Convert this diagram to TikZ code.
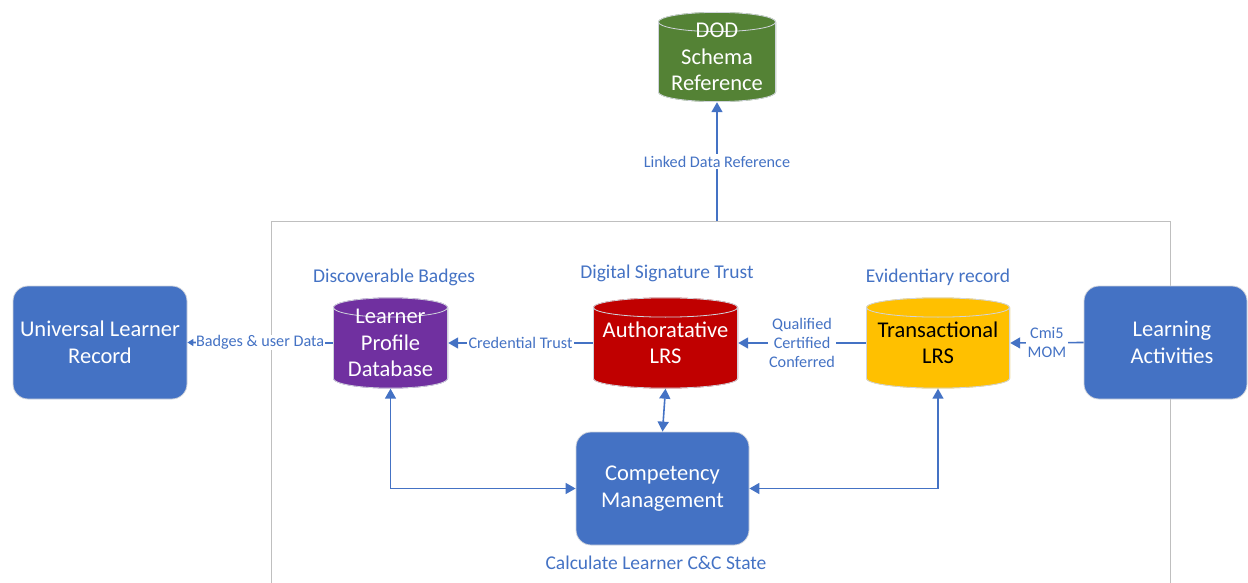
\documentclass[tikz,border=0pt]{standalone}
\usepackage{fontspec}
\setmainfont{Carlito}
\usetikzlibrary{arrows.meta,calc}
\definecolor{cblue}{HTML}{4472C4}
\definecolor{cgreen}{HTML}{548235}
\definecolor{cpurple}{HTML}{7030A0}
\definecolor{cred}{HTML}{C00000}
\definecolor{cyellow}{HTML}{FFC000}
\definecolor{framegray}{HTML}{BFBFBF}
\definecolor{edgegray}{HTML}{D0D4DC}
\tikzset{
  bigtext/.style={font=\fontsize{22.5}{26.5}\selectfont},
  box/.style={shape=rectangle, rounded corners=15pt, fill=cblue, draw=edgegray, line width=0.8pt,
    text=white, align=center, inner sep=0pt, minimum height=113pt, bigtext},
  cyl/.style={shape=rectangle, inner sep=0pt, align=center, text=white, bigtext,
    path picture={
      \fill[#1] let \p1=(path picture bounding box.south west), \p2=(path picture bounding box.north east), \n1={(\x2-\x1)/2} in
        (\x1,\y2-10pt) -- (\x1,\y1+10pt) arc[start angle=180,end angle=360,x radius=\n1,y radius=10pt]
        -- (\x2,\y2-10pt) arc[start angle=0,end angle=180,x radius=\n1,y radius=10pt] -- cycle;
      \draw[edgegray, line width=0.8pt] let \p1=(path picture bounding box.south west), \p2=(path picture bounding box.north east), \n1={(\x2-\x1)/2-0.4pt} in
        (\x1+0.4pt,\y2-10pt) -- (\x1+0.4pt,\y1+10pt) arc[start angle=180,end angle=360,x radius=\n1,y radius=9.6pt]
        -- (\x2-0.4pt,\y2-10pt)
        (\x1+0.4pt+\n1,\y2-10pt) ellipse[x radius=\n1,y radius=9.6pt];
    }},
  title/.style={text=cblue, font=\fontsize{19.5}{23}\selectfont},
  elabel/.style={text=cblue, fill=white, inner sep=1.5pt, align=center, font=\fontsize{16.2}{19}\selectfont},
  conn/.style={cblue, line width=1.6pt, -{Triangle[length=10pt,width=11pt]}},
  dconn/.style={cblue, line width=1.6pt, {Triangle[length=10pt,width=11pt]}-{Triangle[length=10pt,width=11pt]}},
  frameline/.style={framegray, line width=0.8pt}
}
\begin{document}
\begin{tikzpicture}[x=1pt,y=1pt]
\useasboundingbox (0,0) rectangle (1248,-583);
% container frame
\draw[frameline] (271,-583) -- (271,-221) -- (1170,-221) -- (1170,-583);
\coordinate (ftop) at (717,-221);

% nodes
\node[cyl=cgreen, minimum width=118pt, minimum height=90pt] (dod) at (717,-57) {DOD\\Schema\\Reference};
\node[box, minimum width=174pt] (ulr) at (100,-342.5) {Universal Learner\\Record};
\node[box, minimum width=163pt] (la) at (1165.5,-342.5) {\kern13pt Learning\\\kern13pt Activities};
\node[cyl=cpurple, minimum width=115pt, minimum height=91pt] (lpd) at (390.5,-343) {Learner\\Profile\\Database};
\node[cyl=cred, minimum width=145pt, minimum height=91pt] (alrs) at (665.5,-343) {Authoratative\\LRS};
\node[cyl=cyellow, minimum width=144pt, minimum height=91pt, text=black] (tlrs) at (938,-343) {Transactional\\LRS};
\node[box, minimum width=173pt] (cm) at (662.5,-488.5) {Competency\\Management};

% titles
\node[title] (tlpd) at (394,-277) {Discoverable Badges};
\node[title] (talrs) at (667,-273) {Digital Signature Trust};
\node[title] (ttlrs) at (938,-277) {Evidentiary record};
\node[title] (tcm) at (656,-563) {Calculate Learner C\&C State};

% connectors
\draw[conn] (ftop) -- node[elabel] {Linked Data Reference} (dod.south);
\draw[cblue, line width=1.6pt, -{Triangle[length=6pt,width=7pt]}] (lpd.west) -- node[elabel, inner sep=0.5pt] {Badges \& user Data} (ulr.east);
\draw[conn] (alrs.west) -- node[elabel] {Credential Trust} (lpd.east);
\draw[conn] (tlrs.west) -- node[elabel] {Qualified\\Certified\\Conferred} (alrs.east);
\draw[conn] (la.west) -- node[elabel] {Cmi5\\MOM} (tlrs.east);
\draw[dconn] (lpd.south) |- (cm.west);
\draw[dconn] (tlrs.south) |- (cm.east);
\draw[dconn] (alrs.south) -- (cm.north);
\end{tikzpicture}
\end{document}
